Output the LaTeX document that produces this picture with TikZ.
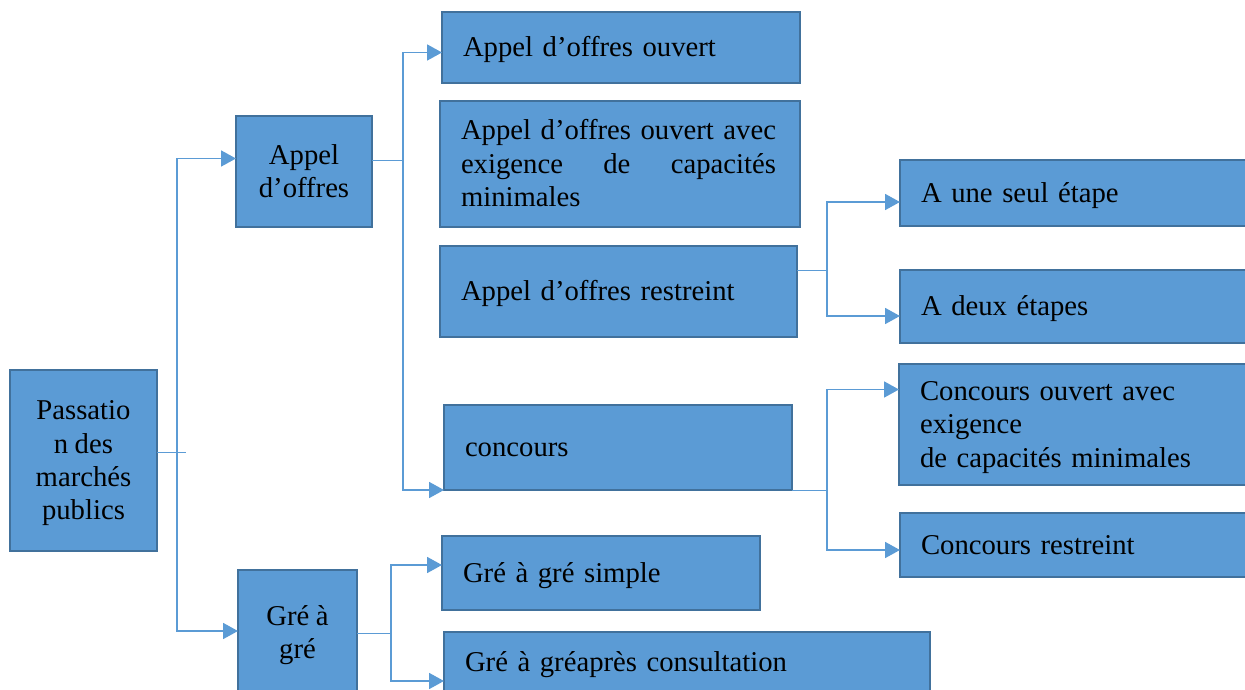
\documentclass[tikz,border=0pt]{standalone}
\usepackage{fontspec}
\setmainfont{Liberation Serif}[WordSpace=0.9]
\usetikzlibrary{arrows.meta}
\definecolor{boxc}{HTML}{5B9BD5}
\definecolor{bordc}{HTML}{41719C}
\definecolor{linec}{HTML}{5B9BD5}
\newcommand\topstx{\rule{0pt}{26pt}}
\newcommand\botstx{\rule[-7.6pt]{0pt}{7.6pt}}
\tikzset{
  box/.style={draw=bordc, fill=boxc, line width=2.4pt, inner xsep=21pt, inner ysep=0pt, outer sep=0pt,
    anchor=north west, text=black, font=\fontsize{28.7}{33.4}\selectfont},
  lbox/.style n args={3}{box, minimum width=#1pt, minimum height=#2pt, text width=#3pt, align=left},
  cbox/.style 2 args={box, inner xsep=2pt, minimum width=#1pt, minimum height=#2pt, align=center},
  conn/.style={draw=linec, line width=1.8pt, -{Triangle[length=15pt,width=16pt]}},
  stub/.style={draw=linec, line width=1pt},
}
\begin{document}
\begin{tikzpicture}[x=1pt,y=-1pt]
\useasboundingbox (0,0) rectangle (1245,690);
\clip (0,0) rectangle (1245,690);
% boxes
\node[cbox={147}{181}] (pass) at (10,370) {\topstx Passatio\\n des\\marchés\\publics\botstx};
\node[cbox={136}{111}] (appel) at (236,116) {\topstx Appel\\d’offres\botstx};
\node[cbox={119}{126}] (gre) at (238,570) {\topstx Gré à\\gré\botstx};
\node[lbox={358}{71}{316}] (ao1) at (442,12) {\topstx Appel d’offres ouvert\botstx};
\node[lbox={360}{126}{318}] (ao2) at (440,101) {\topstx\makebox[315pt]{Appel\hfill d’offres\hfill ouvert\hfill avec}\\\makebox[315pt]{exigence\hfill de\hfill capacités}\\minimales\botstx};
\node[lbox={357}{91}{315}] (ao3) at (440,246) {\topstx Appel d’offres restreint\botstx};
\node[lbox={348}{85}{306}] (conc) at (444,405) {\topstx concours\botstx};
\node[lbox={352}{66}{310}] (une) at (900,160) {\topstx A une seul étape\botstx};
\node[lbox={352}{73}{310}] (deux) at (900,270) {\topstx A deux étapes\botstx};
\node[lbox={353}{121}{311}] (cov) at (899,364) {\topstx Concours ouvert avec\\exigence\\de capacités minimales\botstx};
\node[lbox={352}{64}{310}] (cres) at (900,513) {\topstx Concours restreint\botstx};
\node[lbox={318}{74}{276}] (gs) at (442,536) {\topstx Gré à gré simple\botstx};
\node[lbox={486}{60}{444}] (ga) at (444,632) {\topstx Gré à gréaprès consultation\botstx};
% junctions
\coordinate (j1) at (177,452.5);
\coordinate (j2) at (403,160.5);
\coordinate (j3) at (827,270);
\coordinate (j4) at (827,490);
\coordinate (j5) at (391,633);
% connectors
\draw[stub] ([yshift=8pt]pass.east) -- ++(29,0);
\draw[conn] (j1) |- ([yshift=2pt]appel.west |- j2);
\draw[conn] (j1) |- ([yshift=2pt]gre.west);
\draw[stub] (appel.east |- j2) -- (j2);
\draw[conn] (j2) |- ([yshift=-5pt]ao1.west);
\draw[conn] (j2) |- (conc.south west);
\draw[stub] (ao3.east |- j3) -- (j3);
\draw[conn] (j3) |- ([yshift=-9pt]une.west);
\draw[conn] (j3) |- ([yshift=-9.5pt]deux.west);
\draw[stub] (conc.south east) -- (j4);
\draw[conn] (j4) |- ([yshift=35pt]cov.west);
\draw[conn] (j4) |- ([yshift=-5pt]cres.west);
\draw[stub] (gre.east) -- (j5);
\draw[conn] (j5) |- ([yshift=8pt]gs.west);
\draw[conn] (j5) |- ([yshift=-19pt]ga.west);
\end{tikzpicture}
\end{document}
